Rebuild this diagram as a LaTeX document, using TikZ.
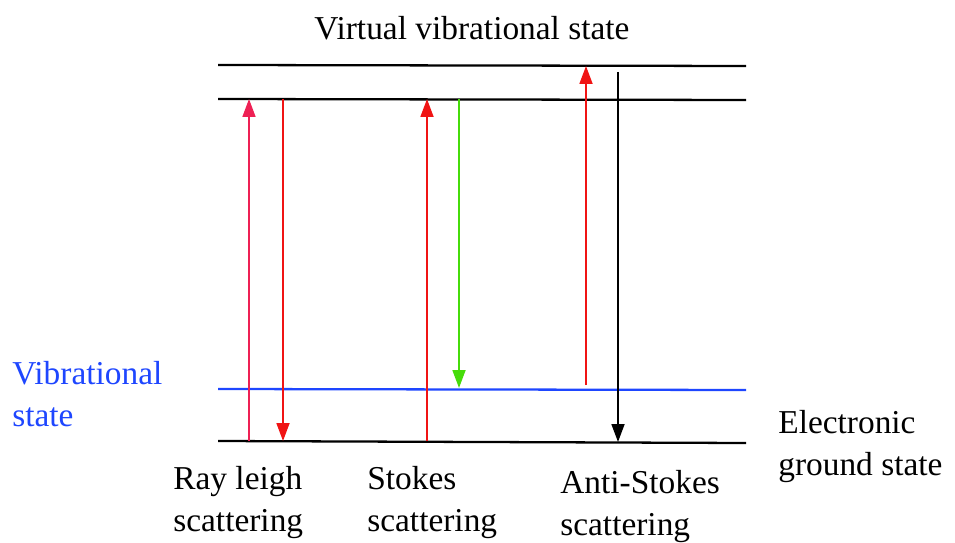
\documentclass[tikz,border=0pt]{standalone}
\usepackage{fontspec}
\setmainfont{Liberation Serif}
\usetikzlibrary{arrows.meta,positioning}
\definecolor{raypink}{RGB}{238,32,84}
\definecolor{photonred}{RGB}{240,20,20}
\definecolor{stokesgreen}{RGB}{70,220,10}
\definecolor{vibblue}{RGB}{30,70,255}

\begin{document}
\begin{tikzpicture}[x=0.02cm,y=-0.02cm,
  level/.style={line width=1.3pt},
  photon/.style={line width=1pt,-{Triangle[length=0.36cm,width=0.26cm]}},
  lbl/.style={anchor=base west,inner sep=0pt,align=left,font=\fontsize{19}{23.5}\selectfont}]

\useasboundingbox (0,0) rectangle (955,543);

%Energy levels
\coordinate (virtL) at (218,65);  \coordinate (virtR) at (746,66);
\coordinate (excL) at (218,99);   \coordinate (excR) at (746,100);
\coordinate (vibL) at (218,389);  \coordinate (vibR) at (746,390);
\coordinate (gndL) at (218,441);  \coordinate (gndR) at (746,443);

\draw[level] (virtL) -- (virtR);
\draw[level] (excL) -- (excR);
\draw[level,vibblue] (vibL) -- (vibR);
\draw[level] (gndL) -- (gndR);

%Rayleigh scattering
\coordinate (rayUpS) at (249,441); \coordinate (rayUpE) at (249,99);
\coordinate (rayDnS) at (283,99);  \coordinate (rayDnE) at (283,441);
\draw[photon,raypink] (rayUpS) -- (rayUpE);
\draw[photon,photonred] (rayDnS) -- (rayDnE);

%Stokes scattering
\coordinate (stkUpS) at (427,441); \coordinate (stkUpE) at (427,99);
\coordinate (stkDnS) at (459,99);  \coordinate (stkDnE) at (459,388);
\draw[photon,photonred] (stkUpS) -- (stkUpE);
\draw[photon,stokesgreen] (stkDnS) -- (stkDnE);

%Anti-Stokes scattering
\coordinate (antUpS) at (586,385); \coordinate (antUpE) at (586,66);
\coordinate (antDnS) at (618,72);  \coordinate (antDnE) at (618,442);
\draw[photon,photonred] (antUpS) -- (antUpE);
\draw[photon,black] (antDnS) -- (antDnE);

%Labels (base = last line)
\node[lbl,anchor=base] (virtLbl) at (472,40) {Virtual vibrational state};
\node[lbl,vibblue] (vibLbl) at (12,426) {Vibrational\\state};
\node[lbl] (gndLbl) at (778,475) {Electronic\\ground state};
\node[lbl] (rayLbl) at (173,531) {Ray leigh\\scattering};
\node[lbl] (stkLbl) at (367,531) {Stokes\\scattering};
\node[lbl] (antLbl) at (560,535) {Anti-Stokes\\scattering};
\end{tikzpicture}
\end{document}
